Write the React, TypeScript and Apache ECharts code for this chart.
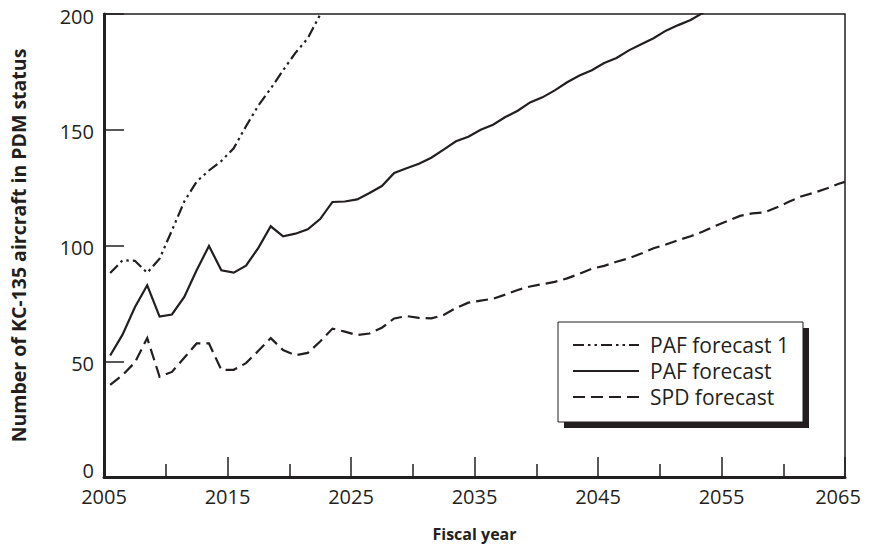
import React, { useEffect, useRef } from "react";
import * as echarts from "echarts";

// Fiscal-year points sit at mid-year positions on the value axis.
const FIRST_POINT_YEAR = 2005.5;
const X_TICK_LABELS = ["2005", "2015", "2025", "2035", "2045", "2055", "2065"];
const Y_TICK_LABELS = ["0", "50", "100", "150", "200"];

const seriesNames = ["PAF forecast 1", "PAF forecast", "SPD forecast"];

// PAF forecast 1 (leaves the plot at the top around 2022)
const pafForecast1 = [
  88.1, 93.6, 93.4, 88.2, 94.3, 106.5, 119, 127.6, 132.4, 136.5, 142, 151.5,
  160.5, 167.8, 175.7, 183.2, 189.5, 199.7, 207,
];

// PAF forecast (leaves the plot at the top around 2053)
const pafForecast = [
  52.5, 61.5, 73.3, 82.8, 69.3, 70.2, 77.8, 89.3, 99.8, 89.3, 88.3, 91.3, 99,
  108.3, 104, 105.1, 107, 111.4, 118.8, 119, 119.9, 122.7, 125.7, 131.3, 133.4,
  135.3, 137.9, 141.4, 145, 147, 150, 152.2, 155.5, 158.2, 161.8, 164, 167,
  170.5, 173.4, 175.7, 178.8, 181, 184.3, 186.9, 189.5, 192.8, 195.2, 197.4,
  200.5, 203.5,
];

// SPD forecast
const spdForecast = [
  39.8, 44, 49.5, 60, 43.3, 45.4, 51.5, 57.7, 57.7, 46.3, 46.3, 49.2, 54.5, 60,
  54.8, 52.6, 53.6, 58.5, 64.1, 62.8, 61.3, 62, 64.5, 68.5, 69.5, 68.7, 68.5,
  70, 73, 75.3, 76.2, 77, 78.8, 80.8, 82.3, 83.3, 84.3, 85.8, 87.8, 90, 91.2,
  93, 94.5, 96.5, 98.8, 100.4, 102.3, 104, 106, 108.5, 110.6, 112.8, 113.9,
  114.3, 116.5, 119, 121.3, 122.8, 124.6, 126.7,
];
// value at the right edge of the plot (2065)
const spdEnd = 127.5;

const INK = "#231f20";
const FONT = "'Open Sans', 'Noto Sans', sans-serif";

// line dash patterns shared by the series and the legend samples
const DASH_DOT_DOT = [11, 4, 2.5, 4, 2.5, 4];
const DASHED = [12, 6];
const lineDashes: (number[] | null)[] = [DASH_DOT_DOT, null, DASHED];

const toPairs = (values: number[]) =>
  values.map((v, i) => [FIRST_POINT_YEAR + i, v]);

// Boxed legend with a solid drop shadow, placed inside the plot area.
function legendGraphic() {
  const box = { x: 558, y: 322, width: 245, height: 100 };
  const shadowOffset = 6;
  const rowTop = 23;
  const rowStep = 26;
  const sampleX = 15;
  const sampleLen = 66;
  const textX = 92;

  const children: any[] = [
    {
      type: "rect",
      shape: { x: box.x + shadowOffset, y: box.y + shadowOffset, width: box.width, height: box.height },
      style: { fill: INK },
    },
    {
      type: "rect",
      shape: { x: box.x, y: box.y, width: box.width, height: box.height },
      style: { fill: "#ffffff", stroke: INK, lineWidth: 1 },
    },
  ];
  seriesNames.forEach((name, i) => {
    const y = box.y + rowTop + i * rowStep;
    children.push({
      type: "line",
      shape: { x1: box.x + sampleX, y1: y, x2: box.x + sampleX + sampleLen, y2: y },
      style: {
        stroke: INK,
        lineWidth: 2.2,
        lineDash: lineDashes[i] || undefined,
      },
    });
    children.push({
      type: "text",
      x: box.x + textX,
      y,
      style: {
        text: name,
        fill: INK,
        font: `21px ${FONT}`,
        textVerticalAlign: "middle",
        verticalAlign: "middle",
      },
    });
  });
  return { type: "group", silent: true, children };
}

export default function App() {
  const ref = useRef<HTMLDivElement>(null);

  useEffect(() => {
    if (!ref.current) return;
    const chart = echarts.init(ref.current, undefined, { renderer: "svg" });

    const xMin = Number(X_TICK_LABELS[0]);
    const xMax = Number(X_TICK_LABELS[X_TICK_LABELS.length - 1]);
    const yMax = Number(Y_TICK_LABELS[Y_TICK_LABELS.length - 1]);

    const baseLine = { color: INK, width: 2.2, cap: "butt" as const, join: "miter" as const };
    const tickText = { fontFamily: FONT, fontSize: 20, color: INK };

    chart.setOption({
      animation: false,
      backgroundColor: "#ffffff",
      textStyle: { fontFamily: FONT, color: INK },
      grid: {
        left: 99,
        right: 26,
        top: 14,
        bottom: 75,
        show: true,
        borderColor: INK,
        borderWidth: 1.5,
        backgroundColor: "transparent",
      },
      xAxis: {
        type: "value",
        min: xMin,
        max: xMax,
        interval: 10,
        name: "Fiscal year",
        nameLocation: "middle",
        nameGap: 49,
        nameTextStyle: { fontFamily: FONT, fontSize: 16, fontWeight: "bold", color: INK },
        axisLine: { show: true, lineStyle: { color: INK, width: 3 } },
        axisTick: { show: true, inside: true, length: 20, lineStyle: { color: INK, width: 1.5 } },
        minorTick: { show: true, splitNumber: 2, length: 13, lineStyle: { color: INK, width: 1.5 } },
        splitLine: { show: false },
        axisLabel: {
          ...tickText,
          margin: 9,
          // the last year label is nudged left so it stays on the page
          formatter: (v: number) =>
            Math.round(v) === xMax ? `{last|${Math.round(v)}}` : `{n|${Math.round(v)}}`,
          rich: {
            n: { ...tickText },
            last: { ...tickText, padding: [0, 14, 0, 0] },
          },
        },
      },
      yAxis: {
        type: "value",
        min: 0,
        max: yMax,
        interval: 50,
        name: "Number of KC-135 aircraft in PDM status",
        nameLocation: "middle",
        nameGap: 76,
        nameTextStyle: { fontFamily: FONT, fontSize: 19.5, fontWeight: "bold", color: INK },
        axisLine: { show: true, lineStyle: { color: INK, width: 3 } },
        axisTick: { show: true, inside: true, length: 20, lineStyle: { color: INK, width: 1.5 } },
        splitLine: { show: false },
        axisLabel: {
          ...tickText,
          margin: 10,
          formatter: (v: number) => (v === 0 ? "{zero|0}" : `{n|${v}}`),
          rich: {
            zero: { ...tickText, padding: [0, 0, 14, 0] },
            n: { ...tickText, padding: [4, 0, 0, 0] },
          },
        },
      },
      graphic: [legendGraphic()],
      series: [
        {
          name: seriesNames[0],
          type: "line",
          symbol: "none",
          clip: true,
          data: toPairs(pafForecast1),
          lineStyle: { ...baseLine, type: DASH_DOT_DOT },
        },
        {
          name: seriesNames[1],
          type: "line",
          symbol: "none",
          clip: true,
          data: toPairs(pafForecast),
          lineStyle: { ...baseLine, type: "solid" },
        },
        {
          name: seriesNames[2],
          type: "line",
          symbol: "none",
          clip: true,
          data: [...toPairs(spdForecast), [xMax, spdEnd]],
          lineStyle: { ...baseLine, type: DASHED },
        },
      ],
    });

    return () => chart.dispose();
  }, []);

  return <div ref={ref} style={{ width: 871, height: 552, margin: -8 }} />;
}
